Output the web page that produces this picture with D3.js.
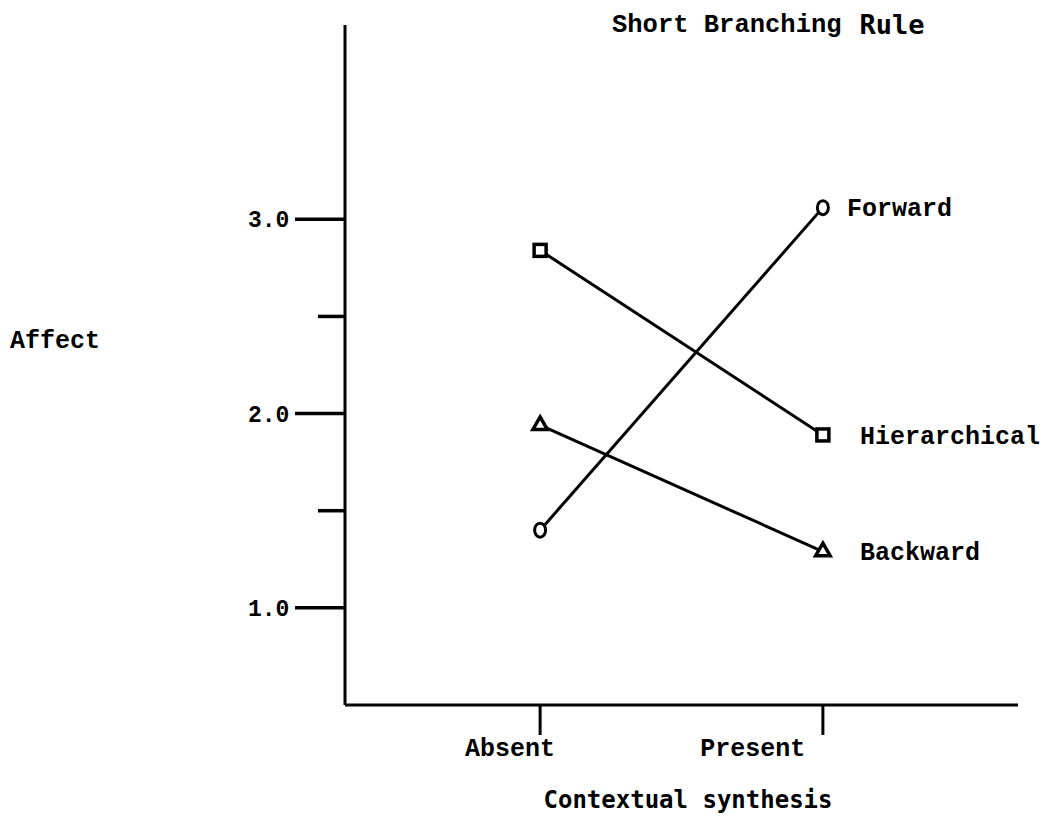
<!DOCTYPE html>
<html>
<head>
<meta charset="utf-8">
<script src="https://cdn.jsdelivr.net/npm/d3@7"></script>
<style>
  body { margin: 0; background: #fff; }
  text { font-family: "Liberation Mono", "DejaVu Sans Mono", monospace; font-weight: bold; fill: #000; }
</style>
</head>
<body>
<svg class="chart" width="1053" height="827"></svg>
<script>
// data
var conditions = ["Absent", "Present"];
var rules = ["Forward", "Hierarchical", "Backward"];
var forward = [1.40, 3.06];
var hierarchical = [2.84, 1.89];
var backward = [1.94, 1.29];
var markers = ["circle", "square", "triangle"];
var majorTicks = [1.0, 2.0, 3.0];
var minorTicks = [1.5, 2.5];

var series = rules.map(function(r, i){
  return {name: r, shape: markers[i], values: [forward, hierarchical, backward][i]};
});

var chart = d3.select(".chart");
var margin = {left: 345, top: 25, right: 35, bottom: 122};
var width = 1053 - margin.left - margin.right,
    height = 827 - margin.top - margin.bottom;

var g = chart.append("g").attr("transform", "translate(" + margin.left + "," + margin.top + ")");

var yScale = d3.scaleLinear().domain([0.5, 4.0]).range([height, 0]);
var xScale = d3.scalePoint().domain(conditions).range([0, width]).padding(0.69);

// axes lines
g.append("line").attr("x1", 0).attr("x2", 0).attr("y1", 0).attr("y2", height)
  .attr("stroke", "#000").attr("stroke-width", 3);
g.append("line").attr("x1", 0).attr("x2", width).attr("y1", height).attr("y2", height)
  .attr("stroke", "#000").attr("stroke-width", 3);

// y ticks
g.selectAll(".major").data(majorTicks).enter().append("line")
  .attr("x1", -50).attr("x2", 0)
  .attr("y1", function(d){ return yScale(d); }).attr("y2", function(d){ return yScale(d); })
  .attr("stroke", "#000").attr("stroke-width", 3.5);
g.selectAll(".minor").data(minorTicks).enter().append("line")
  .attr("x1", -27).attr("x2", 0)
  .attr("y1", function(d){ return yScale(d); }).attr("y2", function(d){ return yScale(d); })
  .attr("stroke", "#000").attr("stroke-width", 3.5);
g.selectAll(".ylab").data(majorTicks).enter().append("text")
  .attr("x", -97).attr("y", function(d){ return yScale(d); })
  .attr("dy", "0.35em").attr("font-size", 23)
  .text(function(d){ return d.toFixed(1); });

// x ticks
g.selectAll(".xtick").data(conditions).enter().append("line")
  .attr("x1", function(d){ return xScale(d); }).attr("x2", function(d){ return xScale(d); })
  .attr("y1", height).attr("y2", height + 30)
  .attr("stroke", "#000").attr("stroke-width", 3);
// labels sit a bit left of their ticks in the original
var labelShift = [-30, -70];
g.selectAll(".xlab").data(conditions).enter().append("text")
  .attr("x", function(d, i){ return xScale(d) + labelShift[i]; }).attr("y", height + 51)
  .attr("text-anchor", "middle").attr("font-size", 25)
  .text(function(d){ return d; });

// lines
var line = d3.line()
  .x(function(d, i){ return xScale(conditions[i]); })
  .y(function(d){ return yScale(d); });

g.selectAll(".series").data(series).enter().append("path")
  .attr("d", function(d){ return line(d.values); })
  .attr("fill", "none").attr("stroke", "#000").attr("stroke-width", 3);

// markers
series.forEach(function(s){
  s.values.forEach(function(v, i){
    var cx = xScale(conditions[i]), cy = yScale(v);
    if (s.shape == "circle") {
      g.append("ellipse").attr("cx", cx).attr("cy", cy).attr("rx", 5.5).attr("ry", 7)
        .attr("fill", "#fff").attr("stroke", "#000").attr("stroke-width", 3);
    } else if (s.shape == "square") {
      g.append("rect").attr("x", cx - 6).attr("y", cy - 6).attr("width", 12).attr("height", 12)
        .attr("fill", "#fff").attr("stroke", "#000").attr("stroke-width", 3.5);
    } else {
      g.append("path").attr("d", d3.symbol(d3.symbolTriangle, 90)())
        .attr("transform", "translate(" + cx + "," + cy + ")")
        .attr("fill", "#fff").attr("stroke", "#000").attr("stroke-width", 3.5);
    }
  });
  // series label
  var last = s.values[s.values.length - 1];
  g.append("text")
    .attr("x", xScale(conditions[1]) + (s.name == "Forward" ? 24 : 37))
    .attr("y", yScale(last)).attr("dy", "0.35em").attr("font-size", 25)
    .text(s.name);
});

// titles
var title = chart.append("text").attr("x", 612).attr("y", 32).attr("font-size", 25.5);
title.append("tspan").text("Short Branching");
title.append("tspan").attr("dx", 18).attr("dy", 2)
  .style("font-family", "'DejaVu Sans Mono', monospace").attr("font-size", 27).text("Rule");
chart.append("text").attr("x", 10).attr("y", 348).attr("font-size", 25).text("Affect");
chart.append("text").attr("x", 688).attr("y", 808).attr("text-anchor", "middle")
  .attr("font-size", 24).style("font-family", "'DejaVu Sans Mono', monospace")
  .text("Contextual synthesis");
</script>
</body>
</html>
